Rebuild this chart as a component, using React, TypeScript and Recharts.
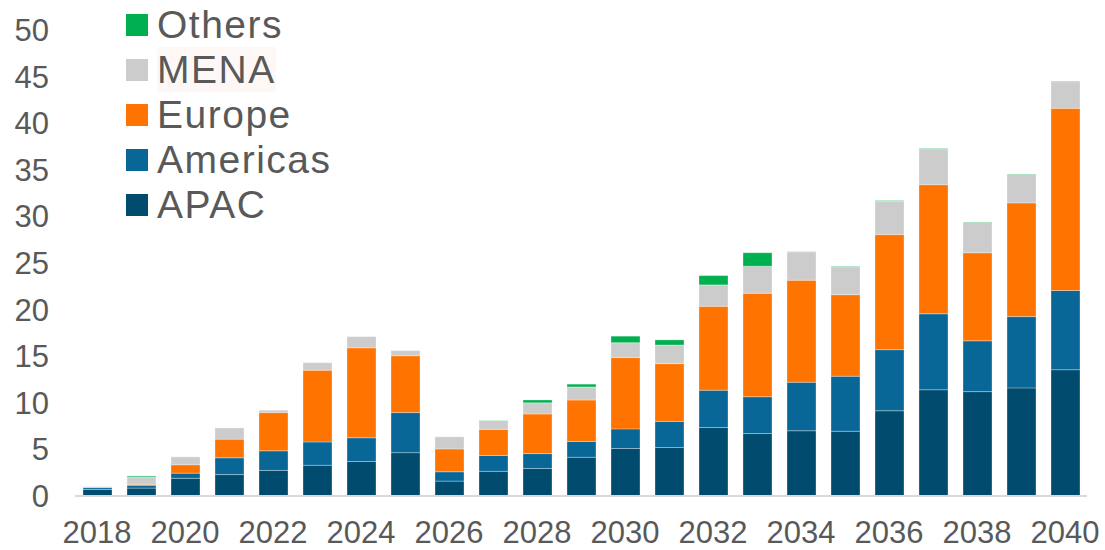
import { BarChart, Bar, XAxis, YAxis } from 'recharts';

const years = [
  '2018', '2019', '2020', '2021', '2022', '2023', '2024', '2025', '2026', '2027', '2028', '2029',
  '2030', '2031', '2032', '2033', '2034', '2035', '2036', '2037', '2038', '2039', '2040',
];

const apac = [0.7, 0.85, 1.9, 2.3, 2.75, 3.3, 3.7, 4.65, 1.6, 2.65, 2.95, 4.15, 5.1, 5.2, 7.35, 6.7, 7.0, 6.95, 9.15, 11.4, 11.2, 11.6, 13.55];
const americas = [0.2, 0.3, 0.55, 1.8, 2.1, 2.5, 2.55, 4.3, 1.0, 1.7, 1.6, 1.7, 2.1, 2.8, 4.0, 3.95, 5.2, 5.9, 6.55, 8.15, 5.45, 7.65, 8.5];
const europe = [0.05, 0.1, 0.9, 2.0, 4.1, 7.7, 9.65, 6.1, 2.45, 2.8, 4.25, 4.45, 7.65, 6.2, 9.0, 11.1, 10.95, 8.75, 12.35, 13.85, 9.45, 12.2, 19.55];
const mena = [0.05, 0.8, 0.85, 1.2, 0.25, 0.8, 1.2, 0.55, 1.3, 0.85, 1.2, 1.4, 1.6, 2.0, 2.3, 2.9, 3.05, 3.0, 3.6, 3.85, 3.25, 3.05, 2.85];
const others = [0, 0.1, 0, 0, 0, 0, 0, 0, 0, 0.07, 0.3, 0.3, 0.7, 0.55, 1.0, 1.45, 0.02, 0.05, 0.05, 0.05, 0.05, 0.05, 0.05];

const yTicks = [0, 5, 10, 15, 20, 25, 30, 35, 40, 45, 50];

const series = [
  { key: 'APAC', values: apac, color: '#014b6e' },
  { key: 'Americas', values: americas, color: '#096797' },
  { key: 'Europe', values: europe, color: '#ff7400' },
  { key: 'MENA', values: mena, color: '#cccccc' },
  { key: 'Others', values: others, color: '#00b050' },
];

const data = years.map((year, i) => {
  const row: Record<string, string | number> = { year };
  series.forEach((s) => {
    row[s.key] = s.values[i];
  });
  return row;
});

const font = '"Liberation Sans", Arial, sans-serif';
const textColor = '#595959';

function LegendBox() {
  const items = [...series].reverse();
  return (
    <div style={{ position: 'absolute', left: 126, top: 2, fontFamily: font }}>
      {items.map((s) => (
        <div key={s.key} style={{ display: 'flex', alignItems: 'center', height: 45 }}>
          <div style={{ width: 22, height: 22, background: s.color }} />
          <span
            style={{
              marginLeft: 9,
              fontSize: 39,
              letterSpacing: 1.5,
              color: textColor,
              lineHeight: '45px',
              background: s.key === 'MENA' ? '#fdf8f5' : 'transparent',
            }}
          >
            {s.key}
          </span>
        </div>
      ))}
    </div>
  );
}

export default function App() {
  return (
    <div
      style={{
        position: 'fixed',
        left: 0,
        top: 0,
        width: 1105,
        height: 550,
        background: '#fff',
        overflow: 'hidden',
      }}
    >
      <BarChart
        width={1105}
        height={550}
        data={data}
        margin={{ top: 30, right: 18, bottom: 14, left: 15 }}
        barSize={29}
      >
        <XAxis
          dataKey="year"
          interval={1}
          tickLine={false}
          tickSize={0}
          tickMargin={25}
          height={40}
          axisLine={{ stroke: '#d9d9d9', strokeWidth: 2 }}
          tick={{ fill: textColor, fontSize: 31, fontFamily: font }}
        />
        <YAxis
          domain={[0, 50]}
          ticks={yTicks}
          width={60}
          axisLine={false}
          tickLine={false}
          tickSize={0}
          tickMargin={26}
          tick={{ fill: textColor, fontSize: 31, fontFamily: font }}
        />
        {series.map((s) => (
          <Bar
            key={s.key}
            dataKey={s.key}
            stackId="a"
            fill={s.color}
            stroke="#ffffff"
            strokeOpacity={0.3}
            strokeWidth={1}
            isAnimationActive={false}
          />
        ))}
      </BarChart>
      <LegendBox />
    </div>
  );
}
